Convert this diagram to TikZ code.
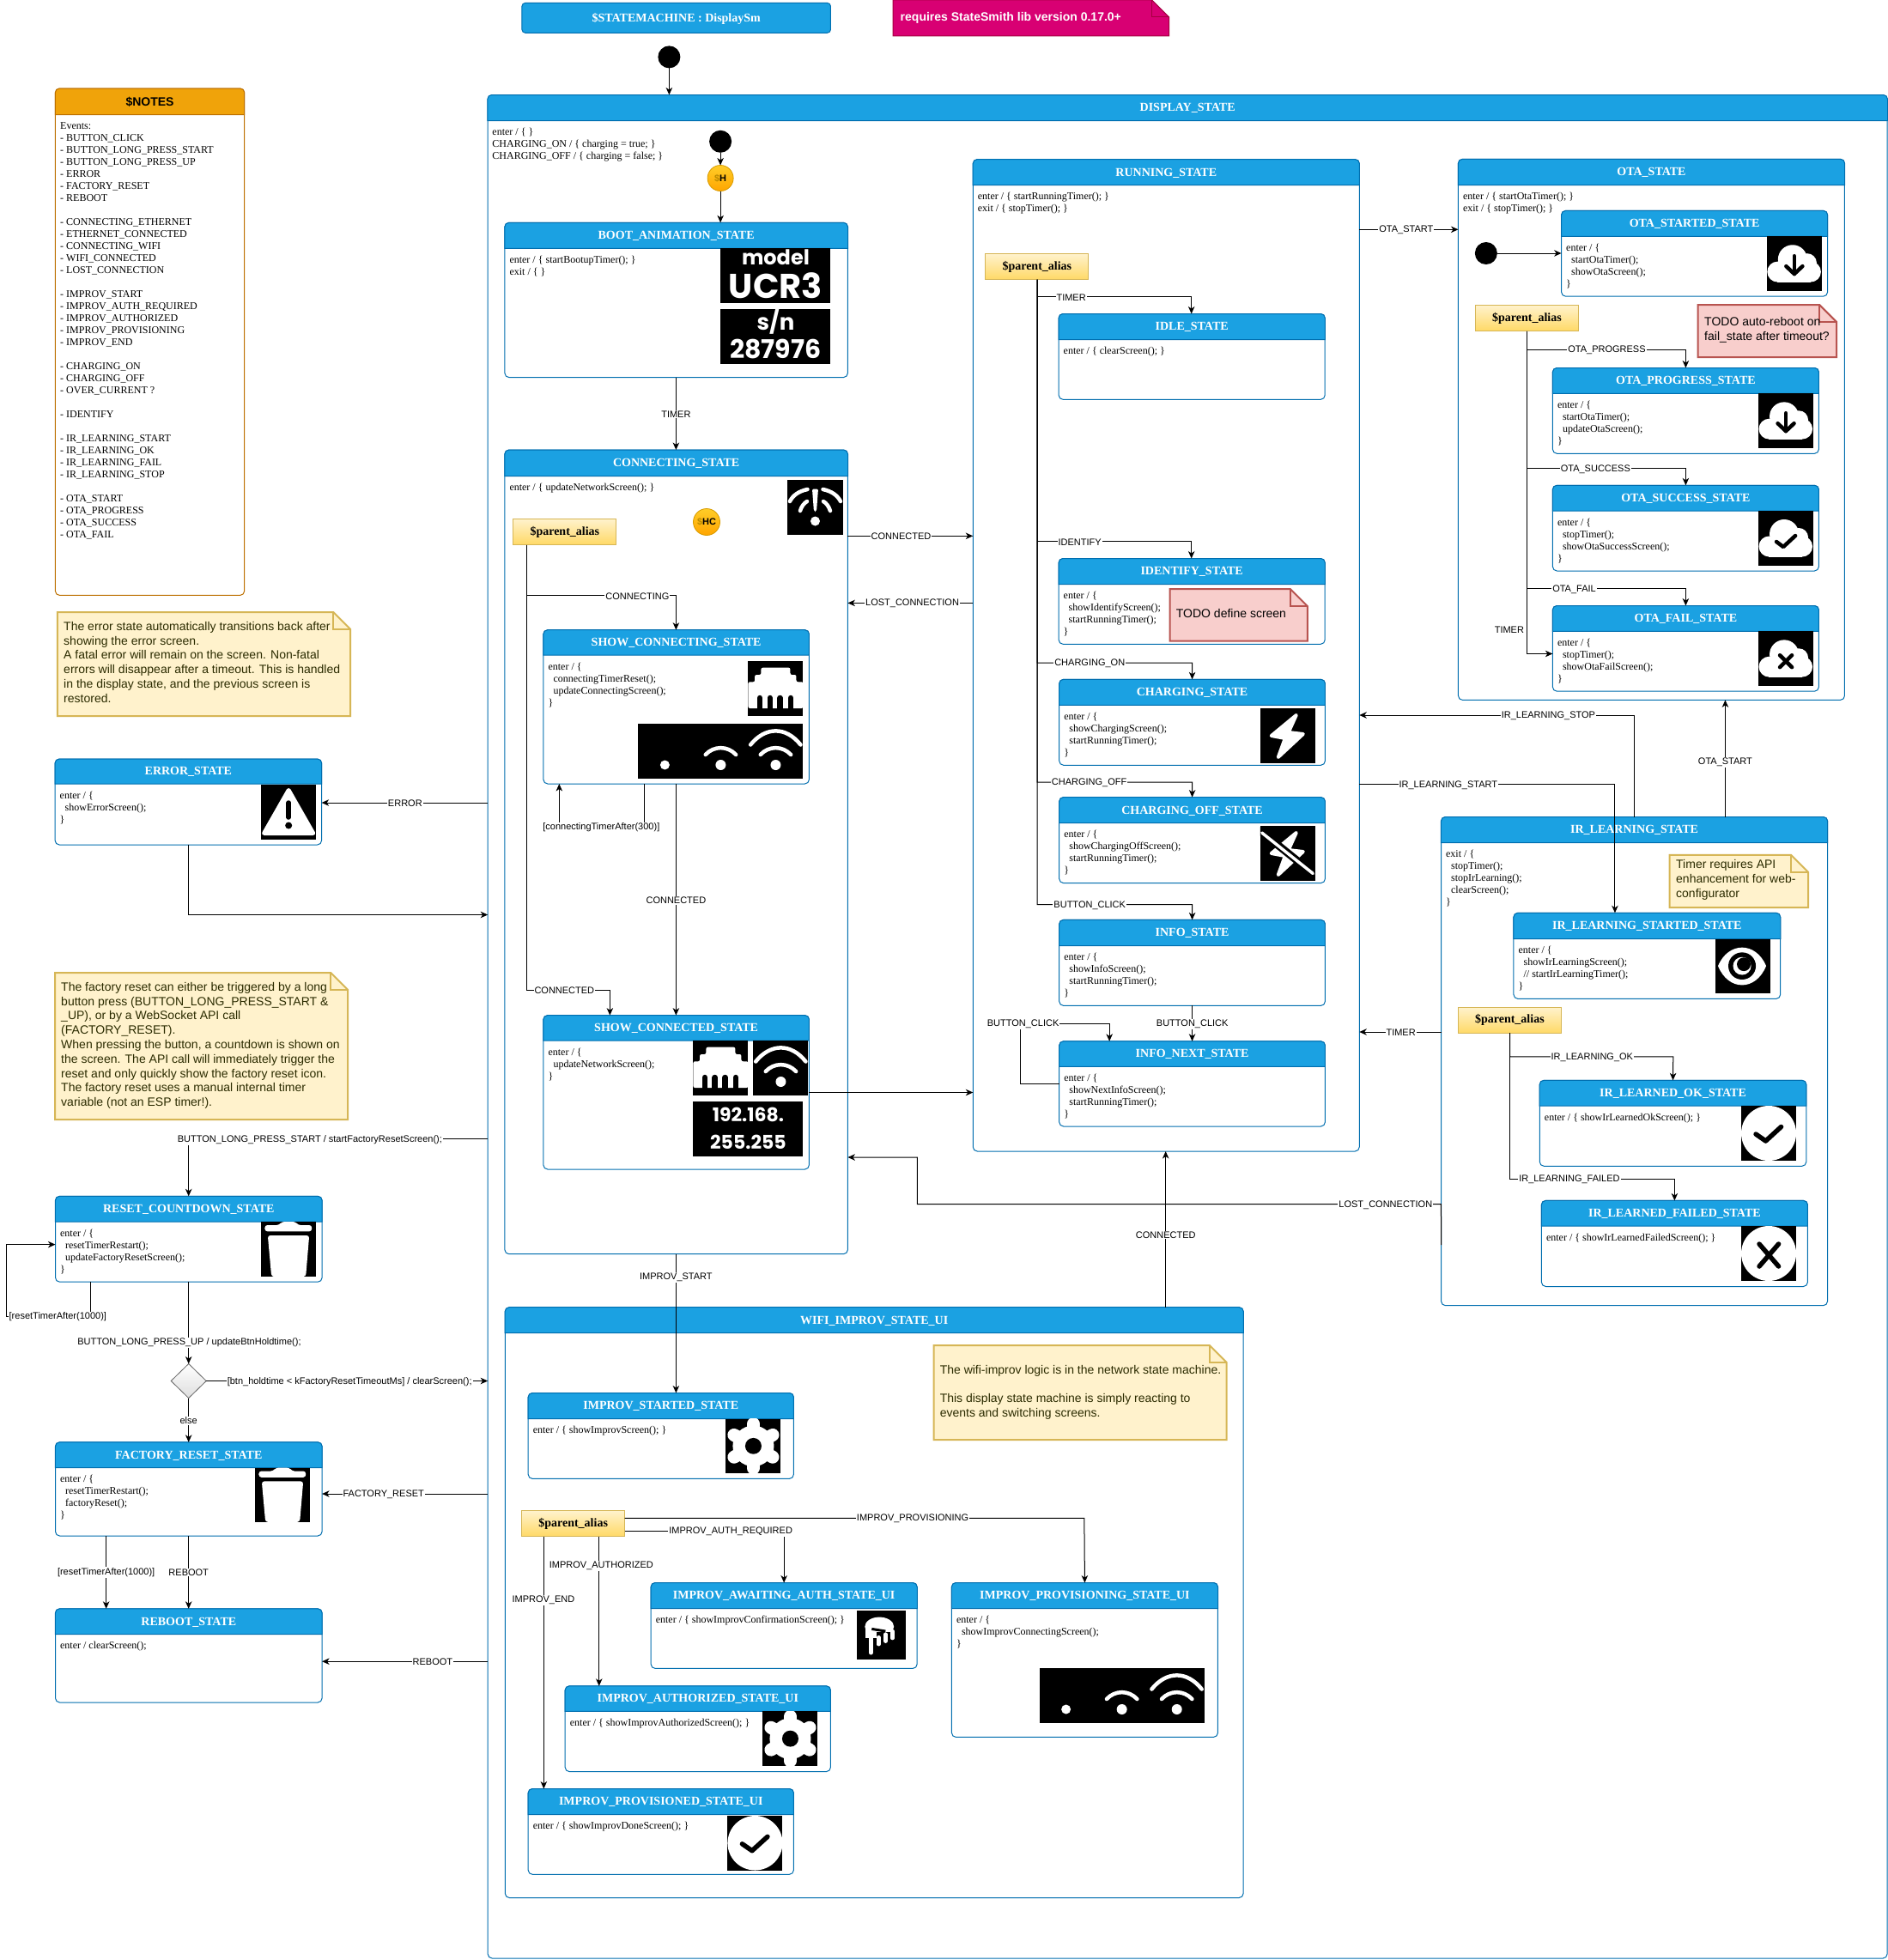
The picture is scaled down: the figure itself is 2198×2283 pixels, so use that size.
\documentclass[tikz,border=0pt]{standalone}
\usepackage{fontspec}
\setmainfont{Liberation Serif}
\newfontfamily\arialf{Liberation Sans}
\newfontfamily\popf{Poppins}
\usetikzlibrary{arrows.meta,shapes.geometric,calc}
\definecolor{hdr}{HTML}{1BA1E2}
\definecolor{hdrs}{HTML}{006EAF}
\definecolor{noteF}{HTML}{FFF2CC}
\definecolor{noteS}{HTML}{D6B656}
\definecolor{noteT}{HTML}{2B2B00}
\definecolor{redF}{HTML}{F8CECC}
\definecolor{redS}{HTML}{B85450}
\definecolor{pinkF}{HTML}{D80073}
\definecolor{pinkS}{HTML}{A50040}
\definecolor{orF}{HTML}{F0A30A}
\definecolor{orS}{HTML}{BD7000}
\definecolor{goldA}{HTML}{FFD966}
\definecolor{hA}{HTML}{FFCD28}
\definecolor{hB}{HTML}{FFA500}
\definecolor{hS}{HTML}{D79B00}
\definecolor{dollar}{HTML}{B98A00}
\newcommand\ind{\hspace*{6pt}}
\tikzset{
 x=1.0005pt,y=-1pt,
 stbody/.style={rectangle,draw=hdrs,fill=white,line width=1pt,rounded corners=5pt,inner sep=0pt,outer sep=0pt},
 sthead/.style={draw=hdrs,fill=hdr,line width=1pt},
 sttitle/.style={text=white,font=\fontsize{14}{16}\selectfont\bfseries,inner sep=0pt,yshift=-0.7pt},
 stbtext/.style={anchor=north west,align=left,inner sep=0pt,font=\fontsize{12}{14}\selectfont},
 arr/.style={draw=black,line width=1pt,-{Stealth[length=8.5pt,width=7.5pt,inset=2.5pt]}},
 lin/.style={draw=black,line width=1pt},
 lbl/.style={fill=white,inner sep=1pt,font=\fontsize{11}{13}\selectfont\arialf,yshift=-0.7pt},
 palias/.style={rectangle,draw=noteS,line width=0.8pt,top color=noteF,bottom color=goldA,minimum width=120pt,minimum height=30pt,inner sep=0pt,outer sep=0pt,font=\fontsize{14}{16}\selectfont\bfseries},
 initc/.style={circle,fill=black,minimum size=26pt,inner sep=0pt,outer sep=0pt},
 histc/.style={circle,draw=hS,line width=0.8pt,top color=hA,bottom color=hB,minimum size=30pt,inner sep=0pt,outer sep=0pt,font=\fontsize{11}{12}\selectfont\arialf\bfseries},
 notet/.style={anchor=north west,align=left,inner sep=0pt,text=noteT,font=\fontsize{14}{16.8}\selectfont\arialf},
 imgt/.style={text=white,inner sep=0pt},
 ww/.style={draw=white,line cap=round,line width=4.5pt},
 bk/.style={draw=black,line cap=round,line join=round},
}
\newcommand\stt[8]{%
 \pgfmathsetmacro\stw{#4-#2}\pgfmathsetmacro\sth{#5-#3}%
 \node[stbody,minimum width=\stw pt,minimum height=\sth pt] (#1) at ({(#2+#4)/2},{(#3+#5)/2}) {};
 \path[sthead] (#2,#6) -- (#2,{#3+5}) .. controls (#2,{#3+2.2}) and ({#2+2.2},#3) .. ({#2+5},#3) -- ({#4-5},#3) .. controls ({#4-2.2},#3) and (#4,{#3+2.2}) .. (#4,{#3+5}) -- (#4,#6) -- cycle;
 \node[sttitle] (#1t) at ({(#2+#4)/2},{(#3+#6)/2}) {#7};
 \node[stbtext] (#1b) at ({#2+5.5},{#6+8.5}) {#8};
}
\newcommand\notebox[7]{% name x1 y1 x2 y2 fill stroke
 \path[fill=#6,draw=#7,line width=2pt] (#2,#3) -- ({#4-20},#3) -- (#4,{#3+20}) -- (#4,#5) -- (#2,#5) -- cycle;
 \path[draw=#7,line width=2pt,line join=miter] ({#4-20},#3) -- ({#4-20},{#3+20}) -- (#4,{#3+20});
 \coordinate (#1) at (#2,#3);
}
\newcommand\lab[4]{\node[lbl] (#1) at (#2,#3) {#4};}
% icons: x y w h cmd
\newcommand\icon[5]{%
 \fill[black] (#1,#2) rectangle ({#1+#3},{#2+#4});
 \pgfmathsetmacro\icsx{#3/64}\pgfmathsetmacro\icsy{#4/64}%
 \begin{scope}[shift={(#1,#2)},xscale=\icsx,yscale=\icsy]
 \clip (0,0) rectangle (64,64);
 #5\end{scope}%
}
\newcommand\stripbox[2]{%
 \fill[black] (#1,#2) rectangle ({#1+192},{#2+64});
 \begin{scope}[shift={(#1,#2)}]\wstrip\end{scope}%
}
\newcommand\dotW{\fill[white] (32,48) circle[radius=6];}
\newcommand\arcM{\draw[ww] (14.3,36) .. controls (24,25.5) and (40,25.5) .. (49.7,36);}
\newcommand\arcL{\draw[ww] (2.7,24.5) .. controls (20,3) and (44,3) .. (61,24.5);}
\newcommand\wifiC{\dotW\arcM\arcL}
\newcommand\wstrip{\fill[white] (31,48) circle[radius=5.5];
 \begin{scope}[shift={(64,0)}]\dotW\arcM\end{scope}\begin{scope}[shift={(128,0)}]\wifiC\end{scope}}
\newcommand\netI{\fill[white,rounded corners=2pt] (15,7.7) -- (49,7.7) -- (49,16) -- (56,16) -- (56,24.3) -- (64,24.3) -- (64,55) -- (0,55) -- (0,24.3) -- (7.7,24.3) -- (7.7,16) -- (15,16) -- cycle;
 \foreach \tx in {13.5,25.3,37.2,49.5}{\draw[black,line width=6.5pt,line cap=round] (\tx,43) -- (\tx,56);}}
\newcommand\wifiX{\fill[white] (32,48) circle[radius=5.5];
 \fill[white,rounded corners=2pt] (28.5,10.5) -- (35.5,10.5) -- (33.5,37) -- (30.5,37) -- cycle;
 \draw[ww] (23,11) .. controls (13,13) and (6,18) .. (2.5,25);
 \draw[ww] (41,11) .. controls (51,13) and (58,18) .. (61.5,25);
 \draw[ww] (22.5,25) .. controls (19,27) and (16,31) .. (14.5,36);
 \draw[ww] (41.5,25) .. controls (45,27) and (48,31) .. (49.5,36);}
\newcommand\cloudI{\fill[white] (30,27) circle[radius=17];\fill[white] (47,31) circle[radius=11];\fill[white] (12.5,41.5) circle[radius=12];\fill[white] (51,41.5) circle[radius=12];\fill[white] (12,30) rectangle (51,53.5);}
\newcommand\cdown{\cloudI\draw[bk,line width=4.5pt] (32,23) -- (32,44);\draw[bk,line width=4.5pt] (22.5,35) -- (32,44) -- (41.5,35);}
\newcommand\ccheck{\cloudI\draw[bk,line width=4.5pt] (21,36) -- (29,42) -- (43,29);}
\newcommand\ccross{\cloudI\draw[bk,line width=4.5pt] (25,28) -- (39,42);\draw[bk,line width=4.5pt] (39,28) -- (25,42);}
\newcommand\circOk{\fill[white] (32,32) circle[radius=32];\draw[bk,line width=5.5pt] (17,33) -- (28.5,41) -- (46.5,24.5);}
\newcommand\circX{\fill[white] (32,32) circle[radius=32];\draw[bk,line width=5.5pt] (21,21) -- (43.5,47);\draw[bk,line width=5.5pt] (43.5,21) -- (21,47);}
\newcommand\gearI{\fill[white] (32,32) circle[radius=24];\foreach \ga in {0,60,120}{\begin{scope}[shift={(32,32)},rotate=\ga+90]\draw[white,line width=15pt,line cap=round] (-26,0) -- (26,0);\end{scope}}\fill[black] (32,32) circle[radius=9.5];}
\newcommand\warnI{\path[fill=white,draw=white,line width=5pt,line join=round] (32,6.5) -- (3.5,56.5) -- (60.5,56.5) -- cycle;\draw[bk,line width=5.5pt] (32,21) -- (32,38);\fill[black] (32,47.5) circle[radius=4];}
\newcommand\trashI{\fill[white,rounded corners=3pt] (4.3,4) -- (21,4) -- (24,0) -- (40,0) -- (43,4) -- (59,4) -- (59,11.3) -- (4.3,11.3) -- cycle;\fill[white,rounded corners=3pt] (7.7,16) -- (56,16) -- (52,64) -- (12,64) -- cycle;}
\newcommand\tapI{\fill[white] (30,21) ellipse[x radius=19,y radius=12.5];\fill[white] (12,21) rectangle (26,36);\draw[black,line width=3pt] (20,24) -- (38,27);\fill[black] (26,28) rectangle (52,36);\draw[ww,line width=5pt] (19,33) -- (19,55);\draw[ww] (29,35) -- (29,44);\draw[ww] (38,31) -- (38,40);\draw[ww] (47,27) -- (47,36);}
\newcommand\boltP{(42,8) -- (13,32) -- (29,35) -- (21,57) -- (50,30) -- (33,28) -- cycle}
\newcommand\boltI{\path[fill=white,draw=white,line width=4pt,line join=round] \boltP;}
\newcommand\boltO{\boltI\draw[black,line width=9pt] (-2,4) -- (66,59);\draw[white,line width=3.5pt,line cap=round] (2,8) -- (61.5,55.5);}
\newcommand\eyeI{\path[fill=white] (3,32) .. controls (15,3) and (47,3) .. (59,32) .. controls (47,62) and (15,62) .. (3,32) -- cycle;\fill[black] (31,32) circle[radius=16];\fill[white] (31,32) circle[radius=10.5];\fill[black] (33,30) circle[radius=8];}
\begin{document}
\begin{tikzpicture}
\useasboundingbox (0,0) rectangle (2197,2283);
\fill[white] (0,0) rectangle (2197,2283);
% top
\path[fill=hdr,draw=hdrs,line width=1pt,rounded corners=4pt] (607.6,3.4) rectangle (967,38.3);
\node[sttitle] (sm) at (787.3,20.8) {\$STATEMACHINE : DisplaySm};
\path[fill=pinkF,draw=pinkS,line width=1pt] (1039.6,0) -- (1341,0) -- (1361,20) -- (1361,42) -- (1039.6,42) -- cycle;
\path[draw=pinkS,line width=1pt] (1341,0) -- (1341,20) -- (1361,20);
\node[anchor=west,inner sep=0pt,text=white,font=\fontsize{14}{16}\selectfont\arialf\bfseries] (req) at (1048,21) {requires StateSmith lib version 0.17.0+};
\node[initc] (i0) at (779,66.4) {};
% NOTES
\node[rectangle,draw=orS,fill=white,line width=1pt,rounded corners=5pt,minimum width=220.3pt,minimum height=590.4pt,inner sep=0pt] (notes) at (174.45,398.2) {};
\path[draw=orS,fill=orF,line width=1pt] (64.3,133.7) -- (64.3,108) .. controls (64.3,105.2) and (66.5,103) .. (69.3,103) -- (279.6,103) .. controls (282.4,103) and (284.6,105.2) .. (284.6,108) -- (284.6,133.7) -- cycle;
\node[font=\fontsize{14}{16}\selectfont\arialf\bfseries,inner sep=0pt] (notest) at (174.45,118.5) {\$NOTES};
\node[stbtext] (notesb) at (70,142.2) {Events:\\- BUTTON\_CLICK\\- BUTTON\_LONG\_PRESS\_START\\- BUTTON\_LONG\_PRESS\_UP\\- ERROR\\- FACTORY\_RESET\\- REBOOT\\[14pt]- CONNECTING\_ETHERNET\\- ETHERNET\_CONNECTED\\- CONNECTING\_WIFI\\- WIFI\_CONNECTED\\- LOST\_CONNECTION\\[14pt]- IMPROV\_START\\- IMPROV\_AUTH\_REQUIRED\\- IMPROV\_AUTHORIZED\\- IMPROV\_PROVISIONING\\- IMPROV\_END\\[14pt]- CHARGING\_ON\\- CHARGING\_OFF\\- OVER\_CURRENT ?\\[14pt]- IDENTIFY\\[14pt]- IR\_LEARNING\_START\\- IR\_LEARNING\_OK\\- IR\_LEARNING\_FAIL\\- IR\_LEARNING\_STOP\\[14pt]- OTA\_START\\- OTA\_PROGRESS\\- OTA\_SUCCESS\\- OTA\_FAIL};
% left notes
\notebox{n1}{66.8}{713}{408}{834}{noteF}{noteS}
\node[notet] (n1t) at (74,724) {The error state automatically transitions back after\\showing the error screen.\\A fatal error will remain on the screen. Non-fatal\\errors will disappear after a timeout. This is handled\\in the display state, and the previous screen is\\restored.};
\notebox{n2}{64}{1133}{405}{1304}{noteF}{noteS}
\node[notet] (n2t) at (71,1144) {The factory reset can either be triggered by a long\\button press (BUTTON\_LONG\_PRESS\_START \&\\\_UP), or by a WebSocket API call\\(FACTORY\_RESET).\\When pressing the button, a countdown is shown on\\the screen. The API call will immediately trigger the\\reset and only quickly show the factory reset icon.\\The factory reset uses a manual internal timer\\variable (not an ESP timer!).};
% left states
\stt{err}{64}{884}{374.5}{984}{913}{ERROR\_STATE}{enter / \{\\\ind showErrorScreen();\\\}}
\icon{304}{914}{64}{64}{\warnI}
\stt{rc}{64.4}{1393.3}{375}{1493.2}{1423.2}{RESET\_COUNTDOWN\_STATE}{enter / \{\\\ind resetTimerRestart();\\\ind updateFactoryResetScreen();\\\}}
\icon{304}{1423}{64}{64}{\trashI}
\node[diamond,draw=black!60,line width=0.8pt,top color=white,bottom color=black!13,minimum width=41pt,minimum height=40pt,aspect=1,inner sep=0pt,outer sep=0pt] (dia) at (219.6,1608.5) {};
\stt{fr}{64.4}{1679.8}{375}{1789}{1709.6}{FACTORY\_RESET\_STATE}{enter / \{\\\ind resetTimerRestart();\\\ind factoryReset();\\\}}
\icon{297}{1709.6}{64}{63.2}{\trashI}
\stt{rb}{64.4}{1873.8}{375}{1983}{1903.7}{REBOOT\_STATE}{enter / clearScreen();}
% DISPLAY
\stt{disp}{567.5}{110.5}{2197.4}{2281}{140.6}{DISPLAY\_STATE}{enter / \{ \}\\CHARGING\_ON / \{ charging = true; \}\\CHARGING\_OFF / \{ charging = false; \}}
\node[initc] (i1) at (838.7,164.8) {};
\node[histc] (hh) at (838.7,207.5) {{\color{dollar}\$}H};
\stt{boot}{587.5}{259.3}{987}{439.6}{289.4}{BOOT\_ANIMATION\_STATE}{enter / \{ startBootupTimer(); \}\\exit / \{ \}}
\fill[black] (839,289.4) rectangle (967,353);
\node[imgt,font=\fontsize{24}{28}\selectfont\popf\bfseries] (im1a) at (903,300) {model};
\node[imgt,font=\fontsize{40}{42}\selectfont\popf\bfseries] (im1b) at (903,333) {UCR3};
\fill[black] (839,360) rectangle (967,424);
\node[imgt,font=\fontsize{26}{28}\selectfont\popf\bfseries] (im2a) at (903,375) {s/n};
\node[imgt,font=\fontsize{30}{32}\selectfont\popf\bfseries] (im2b) at (903,407) {287976};
\stt{conn}{587.5}{524}{987}{1460.7}{554.5}{CONNECTING\_STATE}{enter / \{ updateNetworkScreen(); \}}
\icon{917}{559}{64}{64}{\wifiX}
\node[histc,minimum size=31pt] (hc) at (822.6,608) {{\color{dollar}\$}HC};
\node[palias] (pa1) at (657.5,619.5) {\$parent\_alias};
\stt{sc}{632.5}{733.7}{942}{913}{763}{SHOW\_CONNECTING\_STATE}{enter / \{\\\ind connectingTimerReset();\\\ind updateConnectingScreen();\\\}}
\icon{871}{770}{64}{64}{\netI}
\stripbox{743}{843}
\stt{sd}{632.5}{1182.6}{942}{1362}{1212}{SHOW\_CONNECTED\_STATE}{enter / \{\\\ind updateNetworkScreen();\\\}}
\icon{807}{1212}{64}{64}{\netI}
\icon{877}{1212}{64}{64}{\wifiC}
\fill[black] (807,1283) rectangle (935,1347);
\node[imgt,font=\fontsize{22}{24}\selectfont\popf\bfseries] (ip1) at (871,1298.5) {192.168.};
\node[imgt,font=\fontsize{22}{24}\selectfont\popf\bfseries] (ip2) at (871,1330.5) {255.255};
% RUNNING
\stt{run}{1132.6}{185.6}{1582.6}{1341}{215.7}{RUNNING\_STATE}{enter / \{ startRunningTimer(); \}\\exit / \{ stopTimer(); \}}
\node[palias] (pa2) at (1207.2,310.7) {\$parent\_alias};
\stt{idle}{1232.4}{365.5}{1542.5}{465.3}{395.5}{IDLE\_STATE}{enter / \{ clearScreen(); \}}
\stt{ident}{1232.4}{650.5}{1542.5}{750.3}{680.6}{IDENTIFY\_STATE}{enter / \{\\\ind showIdentifyScreen();\\\ind startRunningTimer();\\\}}
\notebox{n3}{1362}{686}{1522}{746.5}{redF}{redS}
\node[notet,text=black] (n3t) at (1369,709.5) {TODO define screen};
\stt{chg}{1233}{791.3}{1542.7}{891.3}{821.4}{CHARGING\_STATE}{enter / \{\\\ind showChargingScreen();\\\ind startRunningTimer();\\\}}
\icon{1467}{825}{64}{64}{\boltI}
\stt{chgo}{1233}{928.6}{1542.7}{1028.6}{958.7}{CHARGING\_OFF\_STATE}{enter / \{\\\ind showChargingOffScreen();\\\ind startRunningTimer();\\\}}
\icon{1467}{962}{64}{64}{\boltO}
\stt{info}{1233}{1071.4}{1542.7}{1171.4}{1101.5}{INFO\_STATE}{enter / \{\\\ind showInfoScreen();\\\ind startRunningTimer();\\\}}
\stt{infn}{1233}{1212.8}{1542.7}{1312}{1242.4}{INFO\_NEXT\_STATE}{enter / \{\\\ind showNextInfoScreen();\\\ind startRunningTimer();\\\}}
% OTA
\stt{ota}{1697.5}{185.3}{2147.5}{815.4}{215.6}{OTA\_STATE}{enter / \{ startOtaTimer(); \}\\exit / \{ stopTimer(); \}}
\stt{ost}{1817.6}{245.4}{2127.6}{345.2}{275.3}{OTA\_STARTED\_STATE}{enter / \{\\\ind startOtaTimer();\\\ind showOtaScreen();\\\}}
\icon{2056.8}{275.3}{64}{63.7}{\cdown}
\node[initc] (i2) at (1730,295) {};
\node[palias] (pa3) at (1777.5,370.5) {\$parent\_alias};
\notebox{n4}{1976.6}{355}{2138}{416}{redF}{redS}
\node[notet,text=black] (n4t) at (1984,369.5) {TODO auto-reboot on\\fail\_state after timeout?};
\stt{opr}{1807.4}{428.5}{2117.4}{528.3}{458.4}{OTA\_PROGRESS\_STATE}{enter / \{\\\ind startOtaTimer();\\\ind updateOtaScreen();\\\}}
\icon{2047}{458.4}{64}{63.6}{\cdown}
\stt{osu}{1807.4}{565.3}{2117.4}{665}{595.2}{OTA\_SUCCESS\_STATE}{enter / \{\\\ind stopTimer();\\\ind showOtaSuccessScreen();\\\}}
\icon{2047}{595}{64}{64}{\ccheck}
\stt{ofa}{1807.4}{705.5}{2117.4}{805.2}{735.4}{OTA\_FAIL\_STATE}{enter / \{\\\ind stopTimer();\\\ind showOtaFailScreen();\\\}}
\icon{2047}{735.4}{64}{63.6}{\ccross}
% IR
\stt{ir}{1677.6}{951.5}{2127.6}{1520.7}{981.7}{IR\_LEARNING\_STATE}{exit / \{\\\ind stopTimer();\\\ind stopIrLearning();\\\ind clearScreen();\\\}}
\notebox{n5}{1943.7}{995.9}{2105}{1057}{noteF}{noteS}
\node[notet] (n5t) at (1951,1001.5) {Timer requires API\\enhancement for web-\\configurator};
\stt{irs}{1762}{1063.3}{2072.7}{1163.4}{1093.5}{IR\_LEARNING\_STARTED\_STATE}{enter / \{\\\ind showIrLearningScreen();\\\ind // startIrLearningTimer();\\\}}
\icon{1997}{1093.5}{64}{63.3}{\eyeI}
\node[palias] (pa5) at (1757.5,1188.4) {\$parent\_alias};
\stt{iro}{1792.3}{1258.3}{2102.8}{1358.3}{1288}{IR\_LEARNED\_OK\_STATE}{enter / \{ showIrLearnedOkScreen(); \}}
\icon{2027}{1288}{64}{64}{\circOk}
\stt{irf}{1794.4}{1398.4}{2104.4}{1498.5}{1428}{IR\_LEARNED\_FAILED\_STATE}{enter / \{ showIrLearnedFailedScreen(); \}}
\icon{2027}{1428}{64}{64}{\circX}
% WIFI
\stt{wifi}{587.8}{1522.7}{1447.6}{2210.5}{1552.7}{WIFI\_IMPROV\_STATE\_UI}{}
\notebox{n6}{1087}{1567}{1428}{1677}{noteF}{noteS}
\node[notet] (n6t) at (1094,1590) {The wifi-improv logic is in the network state machine.\\[16.8pt]This display state machine is simply reacting to\\events and switching screens.};
\stt{ist}{614.8}{1622.5}{924}{1722.4}{1652.6}{IMPROV\_STARTED\_STATE}{enter / \{ showImprovScreen(); \}}
\icon{845}{1652.6}{64}{63.4}{\gearI}
\node[palias] (pa4) at (667.3,1774.7) {\$parent\_alias};
\stt{iaw}{757.7}{1843.5}{1067.7}{1943.4}{1873.6}{IMPROV\_AWAITING\_AUTH\_STATE\_UI}{enter / \{ showImprovConfirmationScreen(); \}}
\icon{997}{1876}{57}{57}{\tapI}
\stt{ipg}{1107.8}{1843.5}{1417.8}{2023.4}{1873.6}{IMPROV\_PROVISIONING\_STATE\_UI}{enter / \{\\\ind showImprovConnectingScreen();\\\}}
\stripbox{1210}{1943}
\stt{iau}{657.8}{1963.8}{967}{2063.6}{1993.3}{IMPROV\_AUTHORIZED\_STATE\_UI}{enter / \{ showImprovAuthorizedScreen(); \}}
\icon{888}{1993.3}{64}{63.7}{\gearI}
\stt{ipd}{614.8}{2083.5}{924}{2183.3}{2113.5}{IMPROV\_PROVISIONED\_STATE\_UI}{enter / \{ showImprovDoneScreen(); \}}
\icon{847}{2115}{64}{63.5}{\circOk}
% connectors
\draw[arr] (i0) -- (779,0 |- disp.north);
\draw[arr] (i1) -- (hh);
\draw[arr] (hh) -- (838.7,0 |- boot.north);
\draw[arr] (787,0 |- boot.south) -- (787,0 |- conn.north);
\draw[arr] (conn.east |- 0,624.3) -- (run.west |- 0,624.3);
\draw[arr] (run.west |- 0,702.4) -- (conn.east |- 0,702.4);
\draw[arr] (613,0 |- pa1.south) -- (613,693.6) -- (787,693.6) -- (787,0 |- sc.north);
\draw[arr] (613,0 |- pa1.south) -- (613,1153) -- (710,1153) -- (710,0 |- sd.north);
\draw[arr] (750,0 |- sc.south) -- (750,963) -- (651,963) -- (651,0 |- sc.south);
\draw[arr] (787,0 |- sc.south) -- (787,0 |- sd.north);
\draw[arr] (sd.east |- 0,1272.5) -- (run.west |- 0,1272.5);
\draw[arr] (787,0 |- conn.south) -- (787,0 |- ist.north);
\draw[arr] (1207.6,0 |- pa2.south) -- (1207.6,345.6) -- (1387,345.6) -- (1387,0 |- idle.north);
\draw[arr] (1207.6,0 |- pa2.south) -- (1207.6,630.6) -- (1387,630.6) -- (1387,0 |- ident.north);
\draw[arr] (1207.6,0 |- pa2.south) -- (1207.6,772) -- (1388,772) -- (chg.north);
\draw[arr] (1207.6,0 |- pa2.south) -- (1207.6,911) -- (1388,911) -- (chgo.north);
\draw[arr] (1207.6,0 |- pa2.south) -- (1207.6,1053.6) -- (1388,1053.6) -- (info.north);
\draw[arr] (info.south) -- (infn.north);
\draw[arr] (infn.west |- 0,1262) -- (1187.4,1262) -- (1187.4,1192) -- (1291.5,1192) -- (1291.5,0 |- infn.north);
\draw[arr] (run.east |- 0,267.3) -- (ota.west |- 0,267.3);
\draw[arr] (i2) -- (ost.west |- i2);
\draw[arr] (1777.7,0 |- pa3.south) -- (1777.7,407) -- (1962.4,407) -- (opr.north);
\draw[arr] (1777.7,0 |- pa3.south) -- (1777.7,545.6) -- (1962.4,545.6) -- (osu.north);
\draw[arr] (1777.7,0 |- pa3.south) -- (1777.7,685.7) -- (1962.4,685.7) -- (ofa.north);
\draw[arr] (1777.7,0 |- pa3.south) -- (1777.7,761.5) -- (ofa.west |- 0,761.5);
\draw[arr] (2008.4,0 |- ir.north) -- (2008.4,0 |- ota.south);
\draw[arr] (1902.6,0 |- ir.north) -- (1902.6,833) -- (run.east |- 0,833);
\draw[arr] (run.east |- 0,913.7) -- (1880,913.7) -- (1880,0 |- irs.north);
\draw[arr] (ir.west |- 0,1202) -- (run.east |- 0,1202);
\draw[arr] (1757.7,0 |- pa5.south) -- (1757.7,1230.9) -- (1947.8,1230.9) -- (iro.north);
\draw[arr] (1757.7,0 |- pa5.south) -- (1757.7,1373.4) -- (1949.4,1373.4) -- (irf.north);
\draw[arr] (ir.west |- 0,1450) -- (1677.6,1402.7) -- (1067.7,1402.7) -- (1067.7,1348) -- (conn.east |- 0,1348);
\draw[arr] (1357,0 |- wifi.north) -- (1357,0 |- run.south);
\draw[arr] (pa4.east |- 0,1768.4) -- (1262.2,1768.4) -- (ipg.north);
\draw[arr] (pa4.east |- 0,1783.4) -- (912.7,1783.4) -- (iaw.north);
\draw[arr] (697.4,0 |- pa4.south) -- (697.4,0 |- iau.north);
\draw[arr] (633,0 |- pa4.south) -- (633,0 |- ipd.north);
\draw[arr] (disp.west |- 0,935) -- (err.east |- 0,935);
\draw[arr] (219.8,0 |- err.south) -- (219.8,1065.5) -- (disp.west |- 0,1065.5);
\draw[arr] (disp.west |- 0,1326.7) -- (219.6,1326.7) -- (219.6,0 |- rc.north);
\draw[arr] (105,0 |- rc.south) -- (105,1533.4) -- (7.3,1533.4) -- (7.3,1449.6) -- (rc.west |- 0,1449.6);
\draw[arr] (219.6,0 |- rc.south) -- (dia.north);
\draw[arr] (dia.east) -- (disp.west |- dia.east);
\draw[arr] (dia.south) -- (219.6,0 |- fr.north);
\draw[arr] (disp.west |- 0,1740) -- (fr.east |- 0,1740);
\draw[arr] (123.6,0 |- fr.south) -- (123.6,0 |- rb.north);
\draw[arr] (219.6,0 |- fr.south) -- (219.6,0 |- rb.north);
\draw[arr] (disp.west |- 0,1935.2) -- (rb.east |- 0,1935.2);
% labels
\lab{l1}{787}{482}{TIMER}
\lab{l2}{1049}{624.3}{CONNECTED}
\lab{l3}{1062}{702.4}{LOST\_CONNECTION}
\lab{l4}{742}{693.6}{CONNECTING}
\lab{l5}{700}{963}{[connectingTimerAfter(300)]}
\lab{l6}{787}{1048}{CONNECTED}
\lab{l7}{657}{1153}{CONNECTED}
\lab{l8}{787}{1487}{IMPROV\_START}
\lab{l9}{1247}{345.6}{TIMER}
\lab{l10}{1257}{630.6}{IDENTIFY}
\lab{l11}{1268.6}{772}{CHARGING\_ON}
\lab{l12}{1268}{911}{CHARGING\_OFF}
\lab{l13}{1268.6}{1053.6}{BUTTON\_CLICK}
\lab{l14}{1388}{1192}{BUTTON\_CLICK}
\lab{l15}{1191}{1192}{BUTTON\_CLICK}
\lab{l16}{1637}{267.3}{OTA\_START}
\lab{l17}{1870.5}{407}{OTA\_PROGRESS}
\lab{l18}{1857.4}{545.6}{OTA\_SUCCESS}
\lab{l19}{1832.6}{685.7}{OTA\_FAIL}
\lab{l20}{1757}{733}{TIMER}
\lab{l21}{2008.4}{887.3}{OTA\_START}
\lab{l22}{1802.5}{833}{IR\_LEARNING\_STOP}
\lab{l23}{1686}{913.7}{IR\_LEARNING\_START}
\lab{l24}{1630.8}{1202}{TIMER}
\lab{l25}{1853.4}{1230.9}{IR\_LEARNING\_OK}
\lab{l26}{1827}{1373.4}{IR\_LEARNING\_FAILED}
\lab{l27}{1613}{1402.7}{LOST\_CONNECTION}
\lab{l28}{1357}{1437.8}{CONNECTED}
\lab{l29}{1062.5}{1768.4}{IMPROV\_PROVISIONING}
\lab{l30}{850.7}{1783.4}{IMPROV\_AUTH\_REQUIRED}
\lab{l31}{700}{1823.2}{IMPROV\_AUTHORIZED}
\lab{l32}{632.6}{1863}{IMPROV\_END}
\lab{l33}{471.6}{935}{ERROR}
\lab{l34}{360.7}{1326.7}{BUTTON\_LONG\_PRESS\_START / startFactoryResetScreen();}
\lab{l35}{67.3}{1533.4}{[resetTimerAfter(1000)]}
\lab{l36}{220.4}{1563.3}{BUTTON\_LONG\_PRESS\_UP / updateBtnHoldtime();}
\lab{l37}{407}{1608.6}{[btn\_holdtime < kFactoryResetTimeoutMs] / clearScreen();}
\lab{l38}{219.6}{1654}{else}
\lab{l39}{446.5}{1740}{FACTORY\_RESET}
\lab{l40}{123.6}{1830.8}{[resetTimerAfter(1000)]}
\lab{l41}{219.6}{1830.8}{REBOOT}
\lab{l42}{503.6}{1935.2}{REBOOT}
\end{tikzpicture}
\end{document}
